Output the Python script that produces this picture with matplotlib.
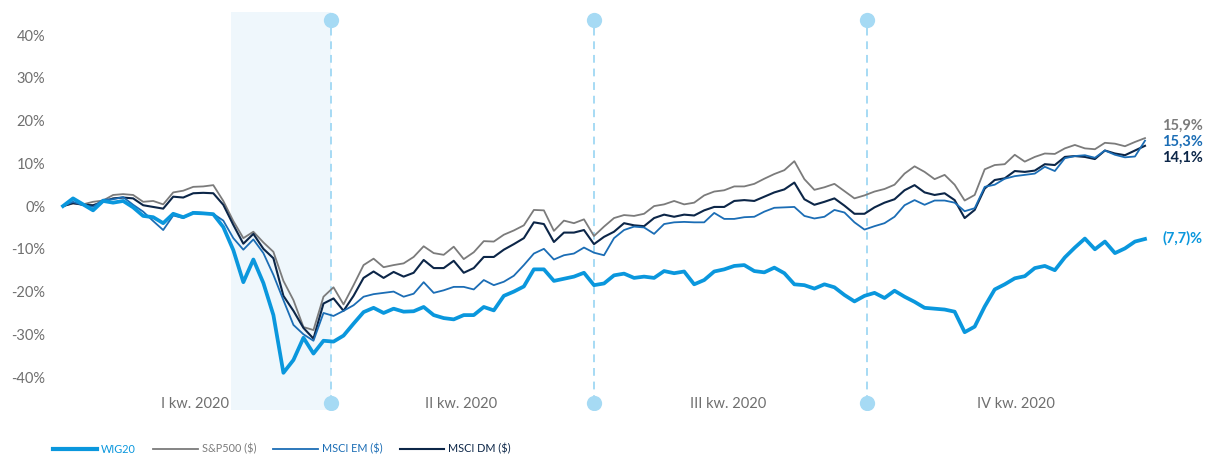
import numpy as np
import matplotlib
matplotlib.use("Agg")
import matplotlib.pyplot as plt
from matplotlib.lines import Line2D

plt.rcParams['font.family'] = ['Lato', 'DejaVu Sans']

# cumulative return since start of 2020, % (~every 2 trading days)
wig20 = [0, 1.8, 0.4, -1.0, 1.2, 0.8, 1.2, -0.3, -2.3, -2.6,
         -4.0, -1.8, -2.6, -1.6, -1.7, -1.9, -4.9, -10.3, -17.8, -12.5,
         -18.0, -25.5, -39.0, -36.0, -30.8, -34.5, -31.5, -31.7, -30.3, -27.5,
         -24.8, -23.8, -25.0, -24.0, -24.7, -24.6, -23.6, -25.5, -26.2, -26.5,
         -25.5, -25.5, -23.6, -24.4, -21.0, -20.0, -18.8, -14.8, -14.8, -17.5,
         -17.0, -16.5, -15.6, -18.5, -18.1, -16.2, -15.8, -16.8, -16.5, -16.8,
         -15.2, -15.7, -15.3, -18.3, -17.3, -15.3, -14.8, -14.0, -13.8, -15.2,
         -15.5, -14.4, -15.7, -18.3, -18.5, -19.3, -18.3, -19.0, -20.8, -22.3,
         -21.0, -20.3, -21.5, -19.8, -21.2, -22.4, -23.8, -24.0, -24.2, -24.7,
         -29.5, -28.2, -23.5, -19.5, -18.3, -16.9, -16.4, -14.5, -14.0, -15.0,
         -12.0, -9.7, -7.6, -10.1, -8.3, -11.0, -9.9, -8.3, -7.7]

sp500 = [0, 0.6, 0.4, 1.0, 1.3, 2.6, 2.8, 2.6, 1.0, 1.2,
         0.4, 3.2, 3.6, 4.5, 4.6, 4.9, 1.2, -3.5, -7.5, -6.0,
         -8.5, -10.7, -17.5, -22.0, -28.3, -29.0, -21.2, -19.0, -23.0, -18.5,
         -13.8, -12.3, -14.3, -13.8, -13.4, -11.9, -9.4, -11.0, -11.4, -9.5,
         -12.4, -10.8, -8.2, -8.3, -6.7, -5.7, -4.5, -0.9, -1.0, -5.8,
         -3.4, -4.0, -3.1, -7.0, -4.8, -2.8, -2.1, -2.3, -1.8, 0.0,
         0.4, 1.2, 0.4, 0.8, 2.5, 3.4, 3.7, 4.6, 4.6, 5.2,
         6.4, 7.5, 8.4, 10.5, 6.3, 3.8, 4.4, 5.2, 3.5, 1.8,
         2.5, 3.4, 4.0, 5.0, 7.6, 9.3, 8.0, 6.3, 7.3, 5.0,
         1.3, 2.6, 8.6, 9.6, 9.8, 12.0, 10.4, 11.5, 12.3, 12.2,
         13.5, 14.3, 13.5, 13.3, 14.8, 14.6, 14.0, 15.0, 15.9]

msci_em = [0, 1.0, 0.2, -0.2, 1.5, 1.6, 2.1, 0.3, -1.3, -3.5,
           -5.6, -2.2, -2.8, -1.4, -1.6, -1.8, -3.4, -7.5, -10.2, -7.8,
           -11.0, -16.1, -22.0, -27.8, -30.0, -31.5, -25.0, -25.7, -24.5, -23.2,
           -21.2, -20.6, -20.3, -20.0, -21.2, -20.5, -17.8, -20.3, -19.7, -18.9,
           -18.9, -19.5, -17.3, -18.5, -17.7, -16.3, -13.8, -11.1, -10.0, -12.5,
           -11.5, -11.1, -9.7, -10.9, -11.5, -7.5, -5.6, -4.8, -5.0, -6.5,
           -4.2, -3.8, -3.7, -3.8, -3.8, -1.6, -3.0, -3.0, -2.6, -2.5,
           -1.3, -0.4, -0.3, -0.2, -2.3, -2.9, -2.5, -0.9, -1.5, -3.8,
           -5.5, -4.7, -4.0, -2.5, 0.2, 1.4, 0.3, 1.3, 1.3, 0.8,
           -1.2, -0.5, 4.5, 5.0, 6.4, 7.0, 7.3, 7.6, 9.2, 8.2,
           11.2, 11.7, 11.9, 11.3, 13.0, 12.0, 11.4, 11.6, 15.3]

msci_dm = [0, 0.7, 0.3, 0.2, 1.0, 1.8, 2.0, 1.8, 0.2, -0.2,
           -0.6, 2.2, 2.0, 3.0, 3.1, 3.0, 0.3, -4.4, -8.8, -6.5,
           -10.0, -12.2, -21.0, -24.5, -28.5, -31.0, -22.8, -21.6, -24.5, -21.0,
           -16.8, -15.3, -16.8, -15.4, -16.5, -15.6, -12.6, -14.5, -14.5, -12.8,
           -15.6, -14.5, -11.9, -11.9, -10.2, -8.9, -7.5, -3.8, -4.2, -8.4,
           -6.2, -6.2, -5.6, -8.9, -7.2, -6.0, -4.0, -4.5, -4.7, -2.8,
           -2.0, -2.5, -2.0, -2.2, -1.0, -0.2, -0.2, 1.2, 1.4, 1.2,
           2.2, 3.2, 3.9, 5.5, 1.6, 0.3, 1.0, 1.8, 0.1, -1.8,
           -1.8, -0.3, 0.8, 1.6, 3.7, 4.9, 3.2, 2.6, 3.0, 1.4,
           -2.8, -0.9, 4.1, 6.1, 6.5, 8.2, 8.0, 8.3, 9.8, 9.6,
           11.5, 11.7, 11.5, 11.0, 13.0, 12.3, 11.9, 13.0, 14.1]

series_names = ['WIG20', 'S&P500 ($)', 'MSCI EM ($)', 'MSCI DM ($)']
quarter_labels = ['I kw. 2020', 'II kw. 2020', 'III kw. 2020', 'IV kw. 2020']
y_ticks = [40, 30, 20, 10, 0, -10, -20, -30, -40]

colors = ['#0a97dd', '#7b7b7b', '#1b6db5', '#0c2648']
widths = [2.7, 1.3, 1.3, 1.5]

x = np.arange(len(wig20))
q_edges = [0, 26.75, 53.0, 80.3, 108]   # index positions of quarter boundaries
q_label_pos = [13.2, 39.7, 66.4, 95.1]
shade_start = 16.8

fig = plt.figure(figsize=(12.07, 4.54), dpi=100)
ax = fig.add_axes([55 / 1207, 1 - 410 / 454, 1095 / 1207, 398 / 454])
ax.set_xlim(-0.8, 108.5)
ax.set_ylim(-47.7, 45.4)

ax.axvspan(shade_start, q_edges[1], color='#eff7fc', zorder=0, lw=0)

# dashed quarter separators with dots
dot_c = '#a6daf4'
for qe in q_edges[1:4]:
    ax.plot([qe, qe], [-46, 43.5], color=dot_c, lw=1.4, ls=(0, (4, 3)), zorder=1)
    ax.plot([qe, qe], [-46, 43.5], 'o', color=dot_c, ms=11, mec='none', zorder=1)

# series, drawn so that WIG20 sits on top
order = [1, 3, 2, 0]
data = [wig20, sp500, msci_em, msci_dm]
for k in order:
    ax.plot(x, data[k], color=colors[k], lw=widths[k], solid_joinstyle='round', zorder=3 + (k == 0))

# end labels
def fmt(v):
    s = f"{abs(v):.1f}".replace('.', ',')
    return f"({s})%" if v < 0 else f"{s}%"

label_y = [-7.5, 18.7, 15.0, 11.2]
for k in [1, 2, 3, 0]:
    ax.text(109.7, label_y[k], fmt(data[k][-1]), color=colors[k], fontsize=10.5,
            fontweight='bold', va='center', ha='left', clip_on=False)

# quarter names
for pos, lab in zip(q_label_pos, quarter_labels):
    ax.text(pos, -46.4, lab, color='#6f6f6f', fontsize=10.5, ha='center', va='center')

ax.set_yticks(y_ticks)
ax.set_yticklabels([f"{t}%" for t in y_ticks])
ax.tick_params(axis='y', length=0, pad=7, labelsize=10.5, labelcolor='#6f6f6f')
ax.set_xticks([])
for sp in ax.spines.values():
    sp.set_visible(False)

handles = [Line2D([], [], color=colors[k], lw=widths[k] + (0.3 if k == 0 else 0)) for k in range(4)]
leg = fig.legend(handles, series_names, loc='center left', bbox_to_anchor=(53 / 1207, 1 - 449 / 454),
                 ncol=4, frameon=False, fontsize=7.8, handlelength=4.1, handletextpad=0.35,
                 columnspacing=1.6, borderpad=0, borderaxespad=0)
for t, c in zip(leg.get_texts(), colors):
    t.set_color(c)

fig.savefig('out.png', dpi=100)
